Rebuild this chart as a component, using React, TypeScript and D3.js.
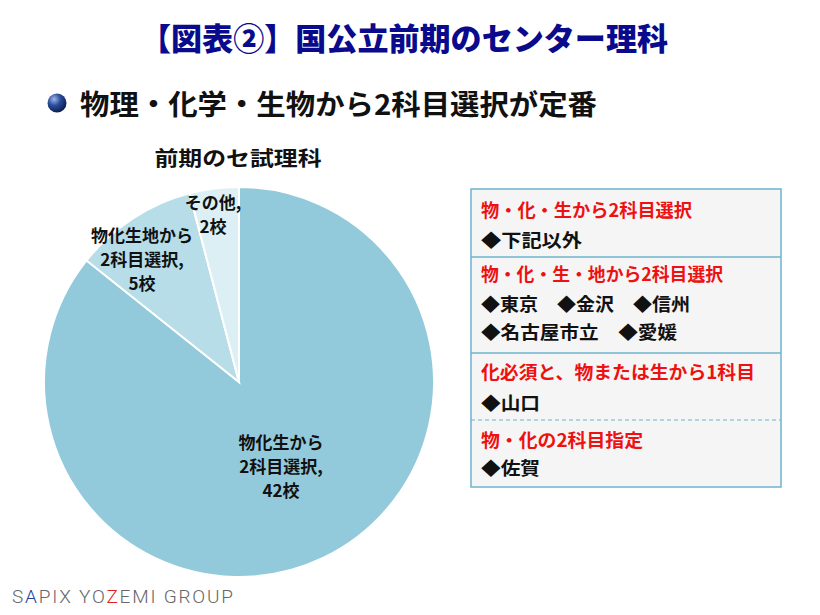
import React from "react";
import * as d3 from "d3";

const sliceLabels: string[][] = [
  ["物化生から", "2科目選択,", "42校"],
  ["物化生地から", "2科目選択,", "5校"],
  ["その他,", "2校"],
];
const sliceValues: number[] = [42, 5, 2];
const sliceColors: string[] = ["#92cadc", "#b6dde8", "#dbeff5"];

const boxHeads: string[] = [
  "物・化・生から2科目選択",
  "物・化・生・地から2科目選択",
  "化必須と、物または生から1科目",
  "物・化の2科目指定",
];
const boxItems: string[][] = [
  ["◆下記以外"],
  ["◆東京　◆金沢　◆信州", "◆名古屋市立　◆愛媛"],
  ["◆山口"],
  ["◆佐賀"],
];

const FONT = "'Noto Sans CJK JP', 'Noto Sans', sans-serif";

export default function App() {
  const cx = 239, cy = 382, r = 195;
  const pie = d3.pie<number>().sort(null).value((d) => d);
  const arcs = pie(sliceValues);
  const arcGen = d3.arc<d3.PieArcDatum<number>>().innerRadius(0).outerRadius(r);
  const labelPos: [number, number][] = [
    [281, 443],
    [142, 236],
    [213, 203],
  ];

  const bx = 471, bw = 310;
  const sectionY = [189, 257, 353, 420, 487];
  const headY = [211, 275, 373, 441];
  const headW = [211, 242, 274, 162];
  const itemY = [[241], [305, 333], [404], [469]];
  const itemW = [[101], [209, 196], [59], [59]];

  return (
    <svg width={820} height={615} style={{ position: "absolute", left: 0, top: 0, background: "#fff" }} fontFamily={FONT}>
      <defs>
        <radialGradient id="ball" cx="0.35" cy="0.3" r="0.75">
          <stop offset="0" stopColor="#9fb8e8" />
          <stop offset="0.45" stopColor="#2a4c9a" />
          <stop offset="1" stopColor="#0b1a4a" />
        </radialGradient>
      </defs>
      <text x={404} y={50} textAnchor="middle" fontSize={31} fontWeight={900} fill="#0a0a8c" textLength={528} lengthAdjust="spacingAndGlyphs">
        【図表②】国公立前期のセンター理科
      </text>
      <circle cx={57} cy={103} r={9.5} fill="url(#ball)" />
      <text x={80} y={115} fontSize={28} fontWeight={700} fill="#111" textLength={517} lengthAdjust="spacingAndGlyphs">
        物理・化学・生物から2科目選択が定番
      </text>
      <text x={238} y={166} textAnchor="middle" fontSize={20} fontWeight={700} fill="#111" textLength={167} lengthAdjust="spacingAndGlyphs">
        前期のセ試理科
      </text>
      <g transform={`translate(${cx},${cy})`}>
        {arcs.map((a, i) => (
          <path key={i} d={arcGen(a) || ""} fill={sliceColors[i]} stroke="#fff" strokeWidth={2} />
        ))}
      </g>
      {sliceLabels.map((lines, i) => (
        <text key={i} textAnchor="middle" fontSize={17} fontWeight={700} fill="#111">
          {lines.map((l, j) => (
            <tspan key={j} x={labelPos[i][0]} y={labelPos[i][1] + 6 + j * 24}>{l}</tspan>
          ))}
        </text>
      ))}
      <rect x={bx} y={sectionY[0]} width={bw} height={sectionY[4] - sectionY[0]} fill="#f5f5f5" stroke="#6cb4cc" strokeWidth={1.5} />
      {[1, 2].map((k) => (
        <line key={k} x1={bx} x2={bx + bw} y1={sectionY[k]} y2={sectionY[k]} stroke="#6cb4cc" strokeWidth={1.5} />
      ))}
      <line x1={bx} x2={bx + bw} y1={sectionY[3]} y2={sectionY[3]} stroke="#6cb4cc" strokeWidth={1.2} strokeDasharray="4,3" />
      {boxHeads.map((h, i) => (
        <text key={"h" + i} x={481} y={headY[i] + 6} fontSize={18} fontWeight={700} fill="#ee1111" textLength={headW[i]} lengthAdjust="spacingAndGlyphs">{h}</text>
      ))}
      {boxItems.map((items, i) =>
        items.map((t, j) => (
          <text key={"i" + i + "-" + j} x={481} y={itemY[i][j] + 6} fontSize={18} fontWeight={700} fill="#111" xmlSpace="preserve" textLength={itemW[i][j]} lengthAdjust="spacingAndGlyphs">{t}</text>
        ))
      )}
      <text x={12} y={603} fontSize={19} fontFamily="Roboto, 'DejaVu Sans', sans-serif" fontWeight={300} fill="#666" textLength={221} lengthAdjust="spacing">
        <tspan fill="#666">S</tspan>
        <tspan fill="#1d3fa0">A</tspan>
        <tspan fill="#666">PIX YO</tspan>
        <tspan fill="#e0201c">Z</tspan>
        <tspan fill="#666">EMI GROUP</tspan>
      </text>
    </svg>
  );
}
